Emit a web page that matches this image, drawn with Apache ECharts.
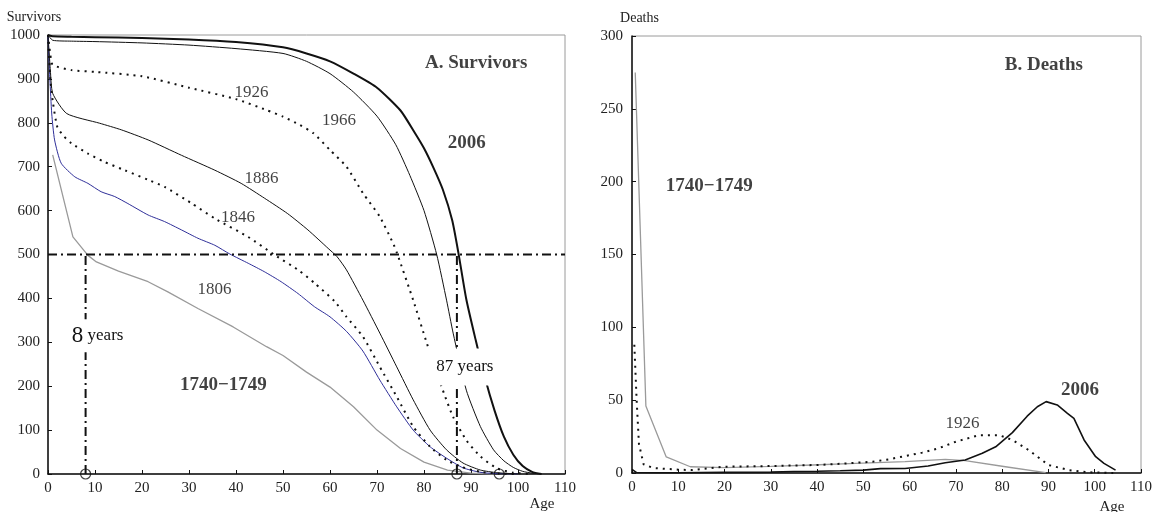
<!DOCTYPE html>
<html>
<head>
<meta charset="utf-8">
<script src="https://cdn.jsdelivr.net/npm/echarts@6/dist/echarts.min.js"></script>
<style>
  html, body { margin: 0; padding: 0; background: #ffffff; }
  #chart { width: 1155px; height: 512px; }
</style>
</head>
<body>
<div id="chart"></div>
<script>
// ---- Survivors out of 1000 births, by age [age, survivors] ----
const survivors1740 = [[1,727],[5.3,540],[8.5,498],[10.3,483],[15,462],[21.3,438],[25.5,415],[31.9,377],[39.4,335],[46.5,290],[50,270],[55,232],[60,198],[65,153],[70,100],[75,58],[80,27],[85,9],[90,2],[95,0]];
const survivors1806 = [[0,1000],[0.4,900],[0.8,820],[1.4,761],[2.8,708],[5.7,677],[8.5,662],[11.3,643],[14.2,632],[17,616],[21.3,590],[24.8,575],[28.4,556],[31.9,537],[35.5,521],[38.7,501],[42.6,480],[46,461],[49.6,438],[53.2,411],[56.7,381],[60,358],[63.5,325],[67,280],[70.6,214],[74.2,153],[77.7,100],[81.3,62],[84.8,36],[88.3,14],[91.9,4],[95,1],[100,0]];
const survivors1846 = [[0,1000],[0.5,900],[1,850],[2,790],[3.5,768],[5,753],[8.5,730],[12,711],[16.3,692],[21.3,670],[24.8,654],[30.5,617],[35.5,582],[42.6,540],[48.2,499],[53.2,465],[56.7,435],[61,393],[63.5,358],[67,313],[70.6,244],[74.2,176],[77.7,108],[81.3,62],[84.8,32],[88,16],[92,5],[96,1],[100,0]];
const survivors1886 = [[0,1000],[0.5,920],[1,867],[4,821],[11,799],[15.6,784],[21.3,761],[28.4,726],[35.5,692],[41.1,662],[46.1,628],[51,593],[55.3,556],[59.6,514],[61.5,495],[63.5,465],[67,396],[70.6,321],[74.2,244],[77.7,169],[81.3,100],[84.8,55],[88.3,25],[92,9],[95.5,3],[100,0]];
const survivors1926 = [[0,1000],[0.5,955],[1,932],[5,920],[10,916],[20,906],[30,880],[40,854],[46.5,829],[50,814],[53.6,795],[56.5,776],[60,738],[63.5,700],[67,640],[70.6,586],[73.4,526],[74.2,505],[77.7,396],[80.6,298],[84,191],[86.2,130],[89,77],[92,40],[95.5,13],[99,3],[103,0]];
const survivors1966 = [[0,1000],[1,988],[5,986],[10,985],[20,982],[30,977],[40,969],[50,958],[55,940],[60,912],[65,870],[70,815],[74,750],[77,680],[80,600],[82.7,500],[84.8,396],[86.2,321],[89,191],[92,108],[94.8,55],[97,30],[99,15],[101,6],[103,2],[105,0]];
const survivors2006 = [[0,1000],[1,997],[5,996],[10,995],[20,993],[30,990],[40,984],[50,972],[55,958],[60,940],[65,912],[70,880],[75,828],[78,778],[80,742],[82,698],[84,648],[86,578],[87.3,505],[89,398],[91,305],[93,218],[95,145],[97,85],[99,44],[101,18],[103,5],[105,0]];

// ---- Deaths per year of age [age, deaths] ----
const deaths1740 = [[0.7,275],[3,46],[7.4,11],[12.6,4.3],[20,3.7],[30,4.5],[39,5.5],[48.3,6.6],[59,7.8],[67.7,9.4],[72,8.5],[80.7,4.3],[89.4,0.2]];
const deaths1926 = [[0.5,88],[1,50],[1.5,20],[2.5,6],[4.6,3.4],[10,2.3],[13,2],[19.7,4.3],[30,4.8],[40,5.5],[46.5,6.6],[52,7.8],[55.5,9.4],[62.7,14],[66.3,17],[70,21.5],[75,26],[79.3,26],[82.2,22.7],[85.7,15.8],[90,5.5],[94.4,2],[98.6,0.5],[104,0]];
const deaths2006 = [[0,2.5],[1,0.3],[5,0.2],[10,0.2],[20,0.4],[30,0.6],[35,1],[40,1.2],[45,1.5],[50,2],[53.7,3],[59,3.1],[64,4.8],[67.7,7],[72,8.9],[75.7,13.5],[78.6,18],[82.2,27.7],[85.4,39],[87.6,45.5],[89.5,49],[91.9,46.7],[94.1,41],[95.5,37.5],[97.7,22.7],[100.2,11.2],[102,6.6],[104.5,2]];

// ---- Reference markers ----
const halfCohort = 500;          // half of the 1000 births
const medianAges = [8, 87];      // age at which half of the cohort is still alive
const markedAges = [8, 87, 96];  // ages circled on the age axis
const medianLabelLevels = [315, 244]; // survivor level where each "years" note sits

// ---- Axis ticks ----
const ageTicks = { min: 0, max: 110, step: 10 };
const survivorTicks = { min: 0, max: 1000, step: 100 };
const deathTicks = { min: 0, max: 300, step: 50 };

// ---- Curve labels: [text, age, value] ----
const survivorLabels = [
  ['A. Survivors', 91.1, 936],
  ['1926', 43.3, 868],
  ['1966', 61.9, 806],
  ['2006', 89.1, 754],
  ['1886', 45.4, 672],
  ['1846', 40.4, 585],
  ['1806', 35.4, 421],
  ['1740\u22121749', 37.3, 203]
];
const deathLabels = [
  ['B. Deaths', 89.0, 280],
  ['1740\u22121749', 16.7, 197],
  ['2006', 96.8, 57],
  ['1926', 71.4, 34.3]
];
const boldLabels = ['A. Survivors', 'B. Deaths', '2006', '1740\u22121749'];

const FONT = '"Liberation Serif", "DejaVu Serif", serif';
const INK = '#111111';

function curve(data, idx, color, width, type, z, smooth) {
  return {
    type: 'line', data: data, xAxisIndex: idx, yAxisIndex: idx,
    showSymbol: false, symbol: 'none', silent: true,
    smooth: smooth || false,
    lineStyle: { color: color, width: width, type: type || 'solid', cap: 'butt' },
    z: z || 2
  };
}

const dotted = [2, 5];
const dashDot = [9, 4, 2, 4];
const SMOOTH = 0.2;

function textSeries(list, idx) {
  return {
    type: 'scatter', xAxisIndex: idx, yAxisIndex: idx, symbolSize: 0, silent: true, z: 8,
    data: list.map(function (l) {
      const bold = boldLabels.indexOf(l[0]) >= 0;
      return {
        name: l[0], value: [l[1], l[2]],
        label: {
          show: true, position: 'inside', formatter: '{b}',
          fontFamily: FONT, color: INK,
          fontSize: bold ? 19 : 17, fontWeight: bold ? 'bold' : 'normal'
        }
      };
    })
  };
}

function axisCommon(r, nameOpts) {
  return Object.assign({
    type: 'value', min: r.min, max: r.max, interval: r.step,
    axisLine: { show: true, onZero: false, lineStyle: { color: INK, width: 1.5 } },
    axisTick: { show: true, inside: true, length: 4, lineStyle: { color: INK, width: 1 } },
    splitLine: { show: false }
  }, nameOpts);
}

function tickLabel(margin) {
  return {
    fontFamily: FONT, fontSize: 15, color: '#222', margin: margin,
    formatter: function (v) { return String(v); }
  };
}

const series = [
  // survivors panel
  curve(survivors1740, 0, '#9a9a9a', 1.3),
  curve(survivors1806, 0, '#2e2e98', 1, 'solid', 2, SMOOTH),
  curve(survivors1846, 0, INK, 2, dotted, 2, SMOOTH),
  curve(survivors1886, 0, INK, 1, 'solid', 2, SMOOTH),
  curve(survivors1926, 0, INK, 2, dotted, 2, SMOOTH),
  curve(survivors1966, 0, INK, 1, 'solid', 2, SMOOTH),
  curve(survivors2006, 0, INK, 2, 'solid', 2, SMOOTH),
  // half-cohort guides
  curve([[ageTicks.min, halfCohort], [ageTicks.max, halfCohort]], 0, INK, 2, dashDot, 3),
  curve([[medianAges[0], 0], [medianAges[0], halfCohort]], 0, INK, 2, dashDot, 3),
  curve([[medianAges[1], 0], [medianAges[1], halfCohort]], 0, INK, 2, dashDot, 3),
  {
    type: 'scatter', xAxisIndex: 0, yAxisIndex: 0, silent: true, z: 6,
    symbol: 'circle', symbolSize: 10,
    itemStyle: { color: 'rgba(255,255,255,0)', borderColor: INK, borderWidth: 1.2 },
    data: markedAges.map(function (a) { return [a, 0]; })
  },
  textSeries(survivorLabels, 0),
  // deaths panel
  curve(deaths1740, 1, '#9a9a9a', 1.3),
  curve(deaths1926, 1, INK, 2, dotted),
  curve(deaths2006, 1, INK, 1.6),
  textSeries(deathLabels, 1)
];

const chart = echarts.init(document.getElementById('chart'), null, { renderer: 'canvas' });
chart.setOption({
  animation: false,
  backgroundColor: '#ffffff',
  textStyle: { fontFamily: FONT },
  grid: [
    { left: 48, top: 35, width: 517, height: 439, outerBoundsMode: 'none', containLabel: false, show: true, borderColor: '#9a9a9a', borderWidth: 1, backgroundColor: 'transparent' },
    { left: 632, top: 36, width: 509, height: 437, outerBoundsMode: 'none', containLabel: false, show: true, borderColor: '#9a9a9a', borderWidth: 1, backgroundColor: 'transparent' }
  ],
  xAxis: [
    axisCommon(ageTicks, {
      gridIndex: 0, name: 'Age', nameLocation: 'end', nameGap: -23,
      nameTextStyle: { fontFamily: FONT, fontSize: 15, color: '#222', align: 'center', verticalAlign: 'top', padding: [23, 0, 0, 0] },
      axisLabel: tickLabel(7)
    }),
    axisCommon(ageTicks, {
      gridIndex: 1, name: 'Age', nameLocation: 'end', nameGap: -29,
      nameTextStyle: { fontFamily: FONT, fontSize: 15, color: '#222', align: 'center', verticalAlign: 'top', padding: [27, 0, 0, 0] },
      axisLabel: tickLabel(7)
    })
  ],
  yAxis: [
    axisCommon(survivorTicks, {
      gridIndex: 0, name: 'Survivors', nameLocation: 'end', nameGap: 11,
      nameTextStyle: { fontFamily: FONT, fontSize: 14, color: '#222', align: 'center', padding: [0, 28, 0, 0] },
      axisLabel: tickLabel(8)
    }),
    axisCommon(deathTicks, {
      gridIndex: 1, name: 'Deaths', nameLocation: 'end', nameGap: 11,
      nameTextStyle: { fontFamily: FONT, fontSize: 14, color: '#222', align: 'center', padding: [0, 0, 0, 15] },
      axisLabel: tickLabel(9)
    })
  ],
  series: series
});

// Boxed "years" notes on the median-age guides, placed through the survivors axes
const p8 = chart.convertToPixel({ gridIndex: 0 }, [medianAges[0], medianLabelLevels[0]]);
const p87 = chart.convertToPixel({ gridIndex: 0 }, [medianAges[1], medianLabelLevels[1]]);
chart.setOption({
  graphic: [
    {
      type: 'text', x: p8[0] + 12, y: p8[1], z: 100,
      style: {
        text: '{big|' + medianAges[0] + '}{small| years}',
        align: 'center', verticalAlign: 'middle',
        backgroundColor: '#ffffff', padding: [5, 5],
        rich: {
          big: { fontFamily: FONT, fontSize: 23, fill: INK },
          small: { fontFamily: FONT, fontSize: 17, fill: INK }
        }
      }
    },
    {
      type: 'text', x: p87[0] + 8, y: p87[1], z: 100,
      style: {
        text: medianAges[1] + ' years',
        align: 'center', verticalAlign: 'middle',
        backgroundColor: '#ffffff', padding: [10, 9],
        fontFamily: FONT, fontSize: 17, fill: INK
      }
    }
  ]
});
</script>
</body>
</html>
